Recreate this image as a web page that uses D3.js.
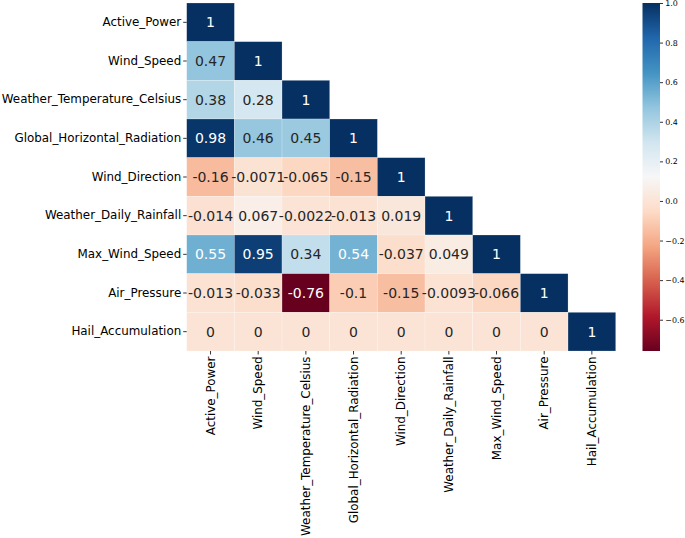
<!DOCTYPE html>
<html>
<head>
<meta charset="utf-8">
<script src="https://cdn.jsdelivr.net/npm/d3@7"></script>
<style>
  html, body { margin: 0; padding: 0; background: #fff; }
  svg { display: block; font-family: "DejaVu Sans", sans-serif; }
</style>
</head>
<body>
<svg id="chart" width="685" height="538"></svg>
<script>
// ---- data ----
const variables = ["Active_Power", "Wind_Speed", "Weather_Temperature_Celsius",
  "Global_Horizontal_Radiation", "Wind_Direction", "Weather_Daily_Rainfall",
  "Max_Wind_Speed", "Air_Pressure", "Hail_Accumulation"];
// lower triangle (including diagonal), row by row
const corrRows = [
  [1],
  [0.47, 1],
  [0.38, 0.28, 1],
  [0.98, 0.46, 0.45, 1],
  [-0.16, -0.0071, -0.065, -0.15, 1],
  [-0.014, 0.067, -0.0022, -0.013, 0.019, 1],
  [0.55, 0.95, 0.34, 0.54, -0.037, 0.049, 1],
  [-0.013, -0.033, -0.758, -0.1, -0.15, -0.0093, -0.066, 1],
  [0, 0, 0, 0, 0, 0, 0, 0, 1]
];
const colorbarTicks = [-0.6, -0.4, -0.2, 0.0, 0.2, 0.4, 0.6, 0.8, 1.0];
const rdbuColors = ["#67001f", "#b2182b", "#d6604d", "#f4a582", "#fddbc7", "#f7f7f7",
  "#d1e5f0", "#92c5de", "#4393c3", "#2166ac", "#053061"];

// ---- layout ----
const svg = d3.select("#chart");
const hm = { left: 186.7, right: 615.7, top: 3, bottom: 351 };
const cb = { left: 642.5, right: 660, top: 3, bottom: 351 };

const cells = [];
corrRows.forEach((row, i) => row.forEach((v, j) => cells.push({ r: variables[i], c: variables[j], v })));
const vmin = d3.min(cells, d => d.v), vmax = d3.max(cells, d => d.v);

const x = d3.scaleBand().domain(variables).range([hm.left, hm.right]);
const y = d3.scaleBand().domain(variables).range([hm.top, hm.bottom]);
const color = d3.scaleSequential(d3.piecewise(d3.interpolateRgb, rdbuColors)).domain([vmin, vmax]);

function lum(c) {
  const rgb = d3.rgb(c);
  const f = u => { u /= 255; return u <= 0.03928 ? u / 12.92 : Math.pow((u + 0.055) / 1.055, 2.4); };
  return 0.2126 * f(rgb.r) + 0.7152 * f(rgb.g) + 0.0722 * f(rgb.b);
}
const fmt = v => d3.format(".2~g")(v).replace("\u2212", "-");

const g = svg.append("g");
g.selectAll("rect.cell").data(cells).enter().append("rect")
  .attr("class", "cell")
  .attr("x", d => x(d.c)).attr("y", d => y(d.r))
  .attr("width", x.bandwidth()).attr("height", y.bandwidth())
  .attr("fill", d => color(d.v))
  .attr("stroke", "rgba(255,255,255,0.35)").attr("stroke-width", 0.6);

g.selectAll("text.annot").data(cells).enter().append("text")
  .attr("class", "annot")
  .attr("x", d => x(d.c) + x.bandwidth() / 2)
  .attr("y", d => y(d.r) + y.bandwidth() / 2)
  .attr("text-anchor", "middle").attr("dominant-baseline", "central")
  .attr("font-size", "14px")
  .attr("fill", d => lum(color(d.v)) > 0.408 ? "#262626" : "#ffffff")
  .text(d => fmt(d.v));

// axes
const yAxis = svg.append("g").attr("transform", `translate(${hm.left},0)`)
  .call(d3.axisLeft(y).tickSize(3.5).tickPadding(2));
yAxis.select(".domain").remove();
yAxis.selectAll("text").attr("font-size", "11.9px").attr("fill", "#000").attr("font-family", "DejaVu Sans");
yAxis.selectAll("line").attr("stroke", "#000").attr("stroke-width", 0.8);

const xAxis = svg.append("g").attr("transform", `translate(0,${hm.bottom})`)
  .call(d3.axisBottom(x).tickSize(3.5).tickPadding(2));
xAxis.select(".domain").remove();
xAxis.selectAll("line").attr("stroke", "#000").attr("stroke-width", 0.8);
xAxis.selectAll("text")
  .attr("font-size", "11.9px").attr("fill", "#000").attr("font-family", "DejaVu Sans")
  .attr("transform", "rotate(-90)")
  .attr("text-anchor", "end")
  .attr("x", -5.5).attr("y", 0).attr("dy", "0.35em");

// colorbar
const defs = svg.append("defs");
const grad = defs.append("linearGradient").attr("id", "cbgrad")
  .attr("x1", 0).attr("y1", 1).attr("x2", 0).attr("y2", 0);
d3.range(0, 1.0001, 0.02).forEach(t => {
  grad.append("stop").attr("offset", t).attr("stop-color", color(vmin + t * (vmax - vmin)));
});
svg.append("rect").attr("x", cb.left).attr("y", cb.top)
  .attr("width", cb.right - cb.left).attr("height", cb.bottom - cb.top)
  .attr("fill", "url(#cbgrad)");
const cbScale = d3.scaleLinear().domain([vmin, vmax]).range([cb.bottom, cb.top]);
const cbAxis = svg.append("g").attr("transform", `translate(${cb.right},0)`)
  .call(d3.axisRight(cbScale).tickValues(colorbarTicks).tickFormat(d3.format(".1f")).tickSize(3).tickPadding(2.3));
cbAxis.select(".domain").remove();
cbAxis.selectAll("line").attr("stroke", "#000").attr("stroke-width", 0.8);
cbAxis.selectAll("text").attr("font-size", "7.9px").attr("fill", "#000").attr("font-family", "DejaVu Sans");
</script>
</body>
</html>
